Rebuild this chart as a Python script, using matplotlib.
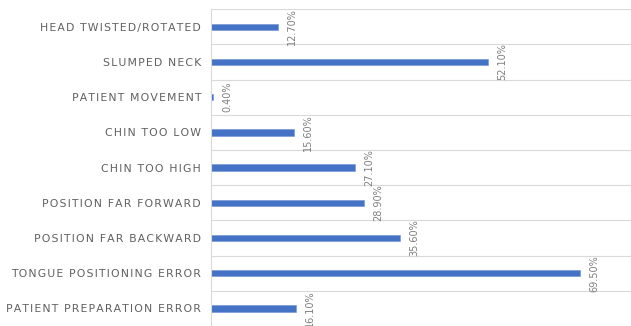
"""Horizontal bar chart of positioning errors (Excel-style)."""

import matplotlib

matplotlib.use("Agg")
import matplotlib.pyplot as plt
import numpy as np

categories = [
    "HEAD TWISTED/ROTATED",
    "SLUMPED NECK",
    "PATIENT MOVEMENT",
    "CHIN TOO LOW",
    "CHIN TOO HIGH",
    "POSITION FAR FORWARD",
    "POSITION FAR BACKWARD",
    "TONGUE POSITIONING ERROR",
    "PATIENT PREPARATION ERROR",
]
percent = [12.7, 52.1, 0.4, 15.6, 27.1, 28.9, 35.6, 69.5, 16.1]
value_labels = ["12.70%", "52.10%", "0.40%", "15.60%", "27.10%",
                "28.90%", "35.60%", "69.50%", "16.10%"]


def spaced(s):
    # mimic the letter spacing of the original with hair spaces
    return "\u200a".join(s)


def main() -> None:
    fig = plt.figure(figsize=(6.31, 3.26), dpi=100)
    ax = fig.add_axes([0.334, 0.0, 0.666, 0.972])

    y = np.arange(len(categories))
    ax.barh(y, percent, height=0.18, color="#4472C4", edgecolor="#6f93d6", lw=0.4)

    for yi, v, lab in zip(y, percent, value_labels):
        ax.annotate(lab, (v, yi), xytext=(6.5, 0), textcoords="offset points",
                    rotation=90, ha="left", va="center", fontsize=7,
                    color="#7f7f7f")

    ax.set_xlim(0, 79)
    ax.set_ylim(len(categories) - 0.5, -0.5)
    ax.set_yticks(y)
    ax.set_yticklabels([spaced(c) for c in categories], fontsize=7.8, color="#606060")
    ax.tick_params(axis="y", length=0, pad=7)
    ax.set_xticks([])

    for b in np.arange(-0.5, len(categories), 1.0):
        ax.axhline(b, color="#d9d9d9", lw=0.8, zorder=0)

    for side in ["top", "right", "bottom"]:
        ax.spines[side].set_visible(False)
    ax.spines["left"].set_color("#d9d9d9")
    ax.spines["left"].set_linewidth(0.8)

    fig.savefig("out.png", dpi=100)


if __name__ == "__main__":
    main()
